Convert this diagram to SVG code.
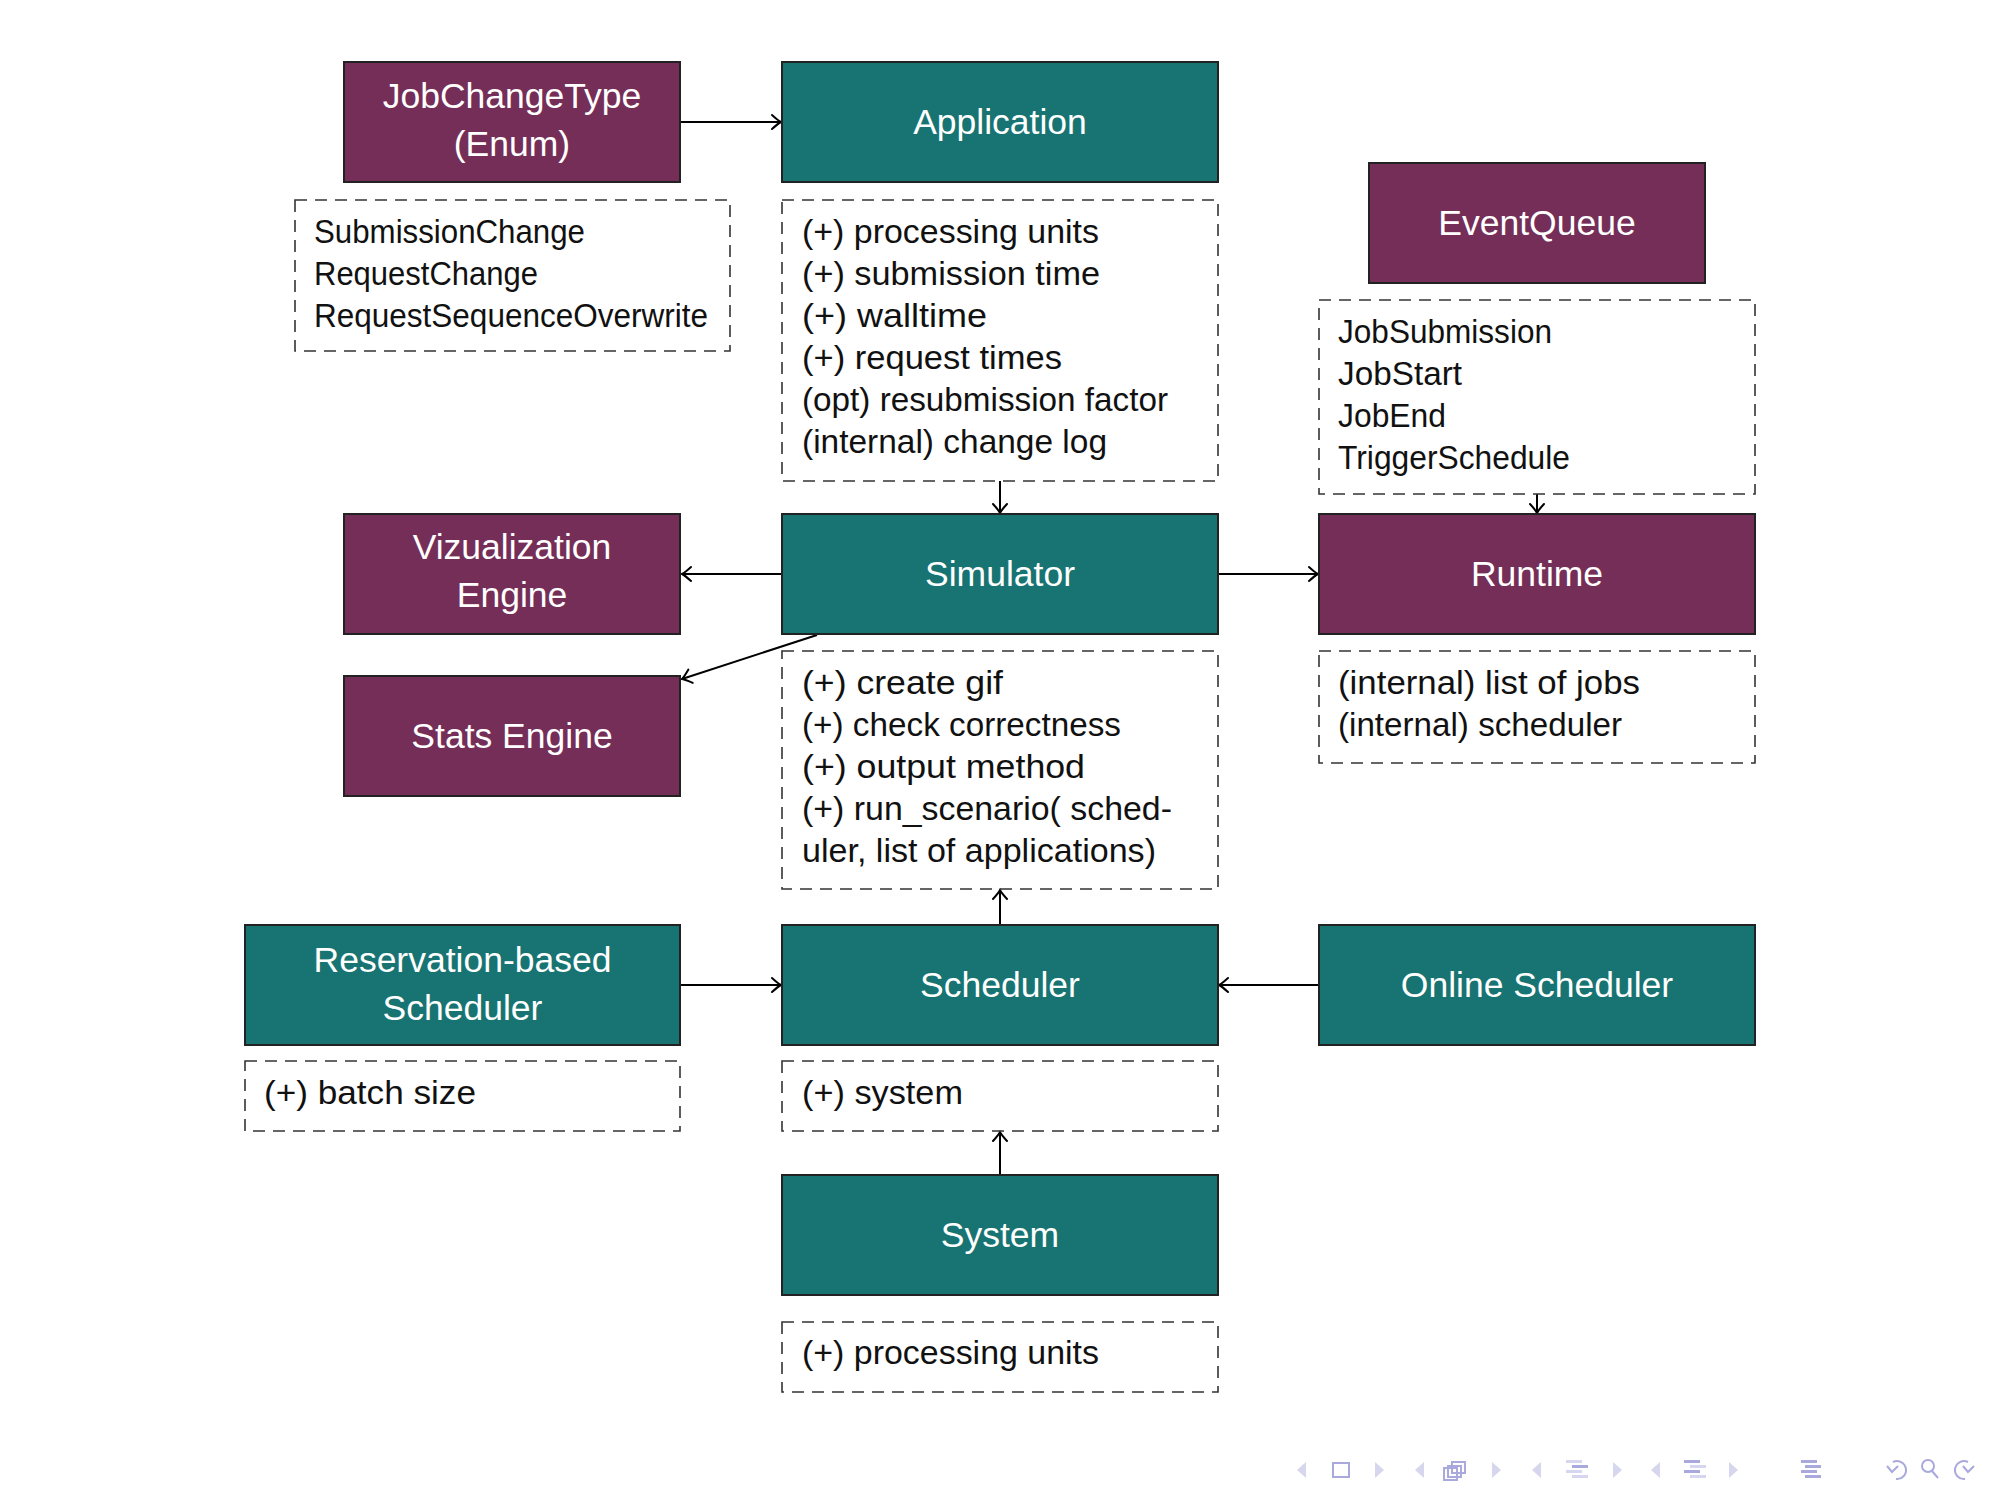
<svg xmlns="http://www.w3.org/2000/svg" width="2000" height="1500" viewBox="0 0 2000 1500">
<style>
.purple { fill:#752e57; stroke:#222; stroke-width:2 }
.teal { fill:#187472; stroke:#222; stroke-width:2 }
.dash { fill:none; stroke:#333; stroke-width:1.6; stroke-dasharray:12 8 }
.title { font-family:"Liberation Sans", Arial, sans-serif; font-size:35.5px; fill:#fff; text-anchor:middle }
.attr { font-family:"Liberation Sans", Arial, sans-serif; font-size:32.5px; fill:#111 }
.conn { stroke:#000; stroke-width:2; fill:none; marker-end:url(#arr) }
.navl { fill:#d6d6ef }
.navd { fill:none; stroke:#a9a9dd; stroke-width:2 }
.bar1 { fill:#a9a9dd }
.bar2 { fill:#d6d6ef }
</style>
<defs>
<marker id="arr" markerUnits="userSpaceOnUse" markerWidth="14" markerHeight="18" viewBox="-11 -9 13 18" refX="0" refY="0" orient="auto">
<path d="M-9,-7 Q-3,-1.5 0,0 Q-3,1.5 -9,7" fill="none" stroke="#000" stroke-width="2" stroke-linecap="round"/>
</marker>
</defs>
<rect width="2000" height="1500" fill="#fff"/>

<g id="connectors">
<line class="conn" x1="681" y1="122" x2="781" y2="122"/>
<line class="conn" x1="1000" y1="481" x2="1000" y2="513"/>
<line class="conn" x1="782" y1="574" x2="682" y2="574"/>
<line class="conn" x1="1218" y1="574" x2="1318" y2="574"/>
<line class="conn" x1="817" y1="635" x2="682" y2="679"/>
<line class="conn" x1="1537" y1="494" x2="1537" y2="513"/>
<line class="conn" x1="1000" y1="925" x2="1000" y2="890"/>
<line class="conn" x1="681" y1="985" x2="781" y2="985"/>
<line class="conn" x1="1319" y1="985" x2="1219" y2="985"/>
<line class="conn" x1="1000" y1="1175" x2="1000" y2="1132"/>
</g>

<g id="jobchangetype">
<rect class="purple" x="344" y="62" width="336" height="120"/>
<text class="title" x="512" y="108">JobChangeType</text>
<text class="title" x="512" y="156">(Enum)</text>
</g>
<g id="jobchangetype-attrs">
<rect class="dash" x="295" y="200" width="435" height="151"/>
<text class="attr" x="314" y="243" textLength="271" lengthAdjust="spacingAndGlyphs">SubmissionChange</text>
<text class="attr" x="314" y="285" textLength="224" lengthAdjust="spacingAndGlyphs">RequestChange</text>
<text class="attr" x="314" y="327" textLength="394" lengthAdjust="spacingAndGlyphs">RequestSequenceOverwrite</text>
</g>

<g id="application">
<rect class="teal" x="782" y="62" width="436" height="120"/>
<text class="title" x="1000" y="134">Application</text>
</g>
<g id="application-attrs">
<rect class="dash" x="782" y="200" width="436" height="281"/>
<text class="attr" x="802" y="243" textLength="297" lengthAdjust="spacingAndGlyphs">(+) processing units</text>
<text class="attr" x="802" y="285" textLength="298" lengthAdjust="spacingAndGlyphs">(+) submission time</text>
<text class="attr" x="802" y="327" textLength="185" lengthAdjust="spacingAndGlyphs">(+) walltime</text>
<text class="attr" x="802" y="369" textLength="260" lengthAdjust="spacingAndGlyphs">(+) request times</text>
<text class="attr" x="802" y="411" textLength="366" lengthAdjust="spacingAndGlyphs">(opt) resubmission factor</text>
<text class="attr" x="802" y="453" textLength="305" lengthAdjust="spacingAndGlyphs">(internal) change log</text>
</g>

<g id="eventqueue">
<rect class="purple" x="1369" y="163" width="336" height="120"/>
<text class="title" x="1537" y="235">EventQueue</text>
</g>
<g id="eventqueue-attrs">
<rect class="dash" x="1319" y="300" width="436" height="194"/>
<text class="attr" x="1338" y="343" textLength="214" lengthAdjust="spacingAndGlyphs">JobSubmission</text>
<text class="attr" x="1338" y="385" textLength="124" lengthAdjust="spacingAndGlyphs">JobStart</text>
<text class="attr" x="1338" y="427" textLength="108" lengthAdjust="spacingAndGlyphs">JobEnd</text>
<text class="attr" x="1338" y="469" textLength="232" lengthAdjust="spacingAndGlyphs">TriggerSchedule</text>
</g>

<g id="vizualization">
<rect class="purple" x="344" y="514" width="336" height="120"/>
<text class="title" x="512" y="559">Vizualization</text>
<text class="title" x="512" y="607">Engine</text>
</g>

<g id="simulator">
<rect class="teal" x="782" y="514" width="436" height="120"/>
<text class="title" x="1000" y="586">Simulator</text>
</g>
<g id="simulator-attrs">
<rect class="dash" x="782" y="651" width="436" height="238"/>
<text class="attr" x="802" y="694" textLength="201" lengthAdjust="spacingAndGlyphs">(+) create gif</text>
<text class="attr" x="802" y="736" textLength="319" lengthAdjust="spacingAndGlyphs">(+) check correctness</text>
<text class="attr" x="802" y="778" textLength="283" lengthAdjust="spacingAndGlyphs">(+) output method</text>
<text class="attr" x="802" y="820" textLength="370" lengthAdjust="spacingAndGlyphs">(+) run_scenario( sched-</text>
<text class="attr" x="802" y="862" textLength="354" lengthAdjust="spacingAndGlyphs">uler, list of applications)</text>
</g>

<g id="runtime">
<rect class="purple" x="1319" y="514" width="436" height="120"/>
<text class="title" x="1537" y="586">Runtime</text>
</g>
<g id="runtime-attrs">
<rect class="dash" x="1319" y="651" width="436" height="112"/>
<text class="attr" x="1338" y="694" textLength="302" lengthAdjust="spacingAndGlyphs">(internal) list of jobs</text>
<text class="attr" x="1338" y="736" textLength="284" lengthAdjust="spacingAndGlyphs">(internal) scheduler</text>
</g>

<g id="stats">
<rect class="purple" x="344" y="676" width="336" height="120"/>
<text class="title" x="512" y="748">Stats Engine</text>
</g>

<g id="reservation">
<rect class="teal" x="245" y="925" width="435" height="120"/>
<text class="title" x="462.5" y="972">Reservation-based</text>
<text class="title" x="462.5" y="1020">Scheduler</text>
</g>
<g id="reservation-attrs">
<rect class="dash" x="245" y="1061" width="435" height="70"/>
<text class="attr" x="264" y="1104" textLength="212" lengthAdjust="spacingAndGlyphs">(+) batch size</text>
</g>

<g id="scheduler">
<rect class="teal" x="782" y="925" width="436" height="120"/>
<text class="title" x="1000" y="997">Scheduler</text>
</g>
<g id="scheduler-attrs">
<rect class="dash" x="782" y="1061" width="436" height="70"/>
<text class="attr" x="802" y="1104" textLength="161" lengthAdjust="spacingAndGlyphs">(+) system</text>
</g>

<g id="online">
<rect class="teal" x="1319" y="925" width="436" height="120"/>
<text class="title" x="1537" y="997">Online Scheduler</text>
</g>

<g id="system">
<rect class="teal" x="782" y="1175" width="436" height="120"/>
<text class="title" x="1000" y="1247">System</text>
</g>
<g id="system-attrs">
<rect class="dash" x="782" y="1322" width="436" height="70"/>
<text class="attr" x="802" y="1364" textLength="297" lengthAdjust="spacingAndGlyphs">(+) processing units</text>
</g>

<g id="nav">
<polygon class="navl" points="1297,1470 1306,1462 1306,1478"/>
<rect class="navd" x="1333" y="1463" width="16" height="14"/>
<polygon class="navl" points="1384,1470 1375,1462 1375,1478"/>
<polygon class="navl" points="1415,1470 1424,1462 1424,1478"/>
<rect class="navd" x="1448" y="1466" width="13" height="11" fill="#fff"/>
<rect class="navd" x="1452" y="1462" width="13" height="11" fill="#fff"/>
<rect class="navd" x="1444" y="1468" width="13" height="12" fill="#fff"/>
<polygon class="navl" points="1501,1470 1492,1462 1492,1478"/>
<polygon class="navl" points="1532,1470 1541,1462 1541,1478"/>
<rect class="bar2" x="1566" y="1460" width="16" height="3"/>
<rect class="bar1" x="1572" y="1465" width="16" height="3"/>
<rect class="bar2" x="1566" y="1470" width="16" height="3"/>
<rect class="bar2" x="1572" y="1475" width="16" height="3"/>
<polygon class="navl" points="1622,1470 1613,1462 1613,1478"/>
<polygon class="navl" points="1651,1470 1660,1462 1660,1478"/>
<rect class="bar1" x="1684" y="1460" width="16" height="3"/>
<rect class="bar2" x="1690" y="1465" width="16" height="3"/>
<rect class="bar1" x="1684" y="1470" width="16" height="3"/>
<rect class="bar2" x="1690" y="1475" width="16" height="3"/>
<polygon class="navl" points="1738,1470 1729,1462 1729,1478"/>
<rect class="bar1" x="1801" y="1460" width="16" height="3"/>
<rect class="bar1" x="1805" y="1465" width="16" height="3"/>
<rect class="bar1" x="1801" y="1470" width="16" height="3"/>
<rect class="bar1" x="1805" y="1475" width="16" height="3"/>
<path class="navd" d="M1893,1462 A9,9 0 1 1 1896,1479"/>
<path class="navd" d="M1887,1466 L1892,1472 L1898,1466"/>
<circle class="navd" cx="1928" cy="1466" r="6"/>
<line class="navd" x1="1932" y1="1471" x2="1938" y2="1478"/>
<path class="navd" d="M1968,1462 A9,9 0 1 0 1965,1479"/>
<path class="navd" d="M1963,1466 L1968,1472 L1974,1466"/>
</g>
</svg>
